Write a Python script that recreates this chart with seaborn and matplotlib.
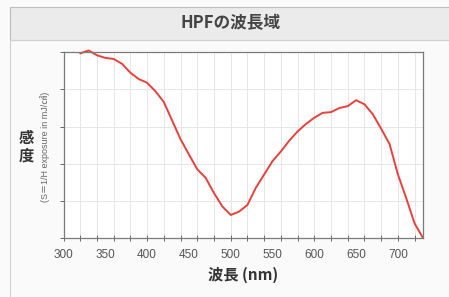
import numpy as np
import pandas as pd
import matplotlib
matplotlib.use("Agg")
import matplotlib.pyplot as plt
from matplotlib.patches import Rectangle
import seaborn as sns

# curve (wavelength nm -> relative sensitivity)
wavelength = [320, 330, 340, 350, 360, 370, 380, 390, 400, 410, 420, 430, 440, 450,
              460, 470, 480, 490, 500, 510, 520, 530, 540, 550, 560, 570, 580, 590,
              600, 610, 620, 630, 640, 650, 660, 670, 680, 690, 700, 710, 720, 730]
sensitivity = [4.97, 5.05, 4.92, 4.85, 4.82, 4.69, 4.45, 4.28, 4.18, 3.95, 3.66, 3.16,
               2.66, 2.25, 1.85, 1.62, 1.21, 0.85, 0.62, 0.71, 0.89, 1.35, 1.71, 2.07,
               2.33, 2.62, 2.87, 3.07, 3.24, 3.37, 3.39, 3.50, 3.55, 3.71, 3.60, 3.33,
               2.94, 2.53, 1.71, 1.07, 0.39, 0.0]
xtick_labels = ["300", "350", "400", "450", "500", "550", "600", "650", "700"]

df = pd.DataFrame({"wl": wavelength, "s": sensitivity})

sns.set_theme(style="white")
plt.rcParams["font.family"] = ["Noto Sans CJK JP", "DejaVu Sans"]

fig = plt.figure(figsize=(4.49, 2.97), dpi=100, facecolor="#fafafa")

# header band + panel frame
fig.patches.append(Rectangle((10 / 449, 1 - 40 / 297), 1.0, 33 / 297, transform=fig.transFigure,
                             facecolor="#ebebeb", edgecolor="#bcbcbc", lw=0.8, zorder=0))
fig.patches.append(Rectangle((10 / 449, -0.05), 1.0, 1 - 40 / 297 + 0.05, transform=fig.transFigure,
                             facecolor="none", edgecolor="#d0d0d0", lw=0.8, zorder=0))
fig.text(231 / 449, 1 - 23 / 297, "HPFの波長域", ha="center", va="center",
         fontsize=12, fontweight="bold", color="#444444")

ax = fig.add_axes([63.5 / 449, 1 - 238 / 297, (423 - 63.5) / 449, (238 - 52.3) / 297])
ax.set_facecolor("white")

sns.lineplot(data=df, x="wl", y="s", ax=ax, color="#e8413c", lw=1.4, clip_on=False)

ax.set_xlim(300, 730)
ax.set_ylim(0, 5)

ax.xaxis.remove_overlapping_locs = False
ax.set_xticks([int(t) for t in xtick_labels])
ax.set_xticklabels(xtick_labels)
ax.set_xticks(np.arange(300, 721, 20), minor=True)
ax.tick_params(axis="x", which="major", length=0, pad=8, labelsize=8.5, labelcolor="#555555")
ax.tick_params(axis="x", which="minor", length=5, width=0.7, direction="inout", color="#666666",
               bottom=True)
for t in ax.get_xticklabels():
    t.set_fontfamily(["Liberation Sans", "DejaVu Sans"])

ax.set_yticks(range(0, 6))
ax.set_yticklabels([])
ax.tick_params(axis="y", length=3, width=0.7, direction="out", color="#666666", left=True)

ax.grid(True, which="minor", axis="x", color="#e6e6e6", lw=0.7)
ax.grid(True, which="major", axis="y", color="#e6e6e6", lw=0.7)
ax.grid(False, which="major", axis="x")

for sp in ax.spines.values():
    sp.set_color("#7a7a7a")
    sp.set_linewidth(0.9)

ax.set_xlabel("波長 (nm)", fontsize=11, fontweight="bold", color="#333333", labelpad=4)
ax.set_ylabel("")

fig.text(26 / 449, 1 - 147 / 297, "感\n度", ha="center", va="center", fontsize=11,
         fontweight="bold", color="#333333", linespacing=1.1)
fig.text(45 / 449, 1 - 147 / 297, "(S＝1/H exposure in mJ/㎠)", ha="center", va="center",
         rotation=90, fontsize=6.5, color="#666666",
         family=["Liberation Sans", "Noto Sans CJK JP"])

fig.savefig("out.png", dpi=100, facecolor=fig.get_facecolor())
